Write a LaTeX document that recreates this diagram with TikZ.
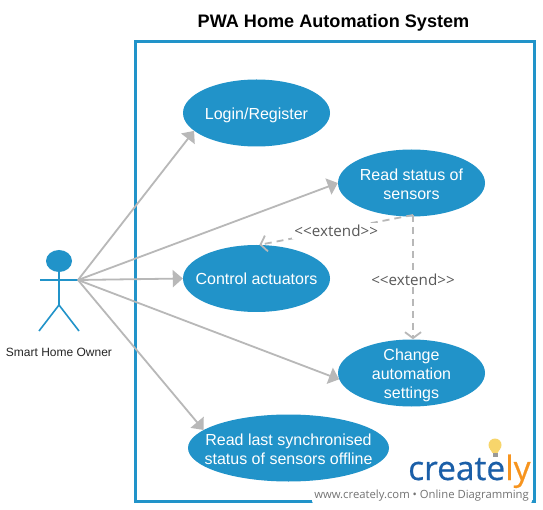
\documentclass[tikz,border=0pt]{standalone}
\usepackage{fontspec}
\setmainfont{Liberation Sans}
\newfontfamily\logofont[FakeBold=0.5]{Open Sans}
\newfontfamily\extfont{Open Sans}
\usetikzlibrary{arrows.meta,shapes.geometric}
\definecolor{blu}{HTML}{2193C9}
\definecolor{gry}{HTML}{B8B8B8}
\definecolor{lbl}{HTML}{595959}
\definecolor{logob}{HTML}{1B5FA8}
\definecolor{logoo}{HTML}{F7941E}
\definecolor{bulb}{HTML}{F7D56B}
\tikzset{
 usecase/.style={ellipse,fill=blu,inner sep=0pt,minimum width=147pt,minimum height=67pt},
 casetext/.style={text=white,font=\fontsize{16}{19}\selectfont,align=center,inner sep=0pt,yshift=-1.5pt},
 assoc/.style={draw=gry,line width=1.8pt,-{Triangle[length=10pt,width=17pt,fill=gry]}},
 ext/.style={draw=gry,line width=1.8pt,dash pattern=on 7pt off 5pt,-{Straight Barb[length=6pt,width=16pt,line width=1.8pt]}},
 extlabel/.style={fill=white,text=lbl,font=\extfont\fontsize{15.2}{17}\selectfont,inner sep=2pt,yshift=-1pt},
 actorline/.style={draw=blu,line width=1.6pt}
}
\begin{document}
\begin{tikzpicture}[x=1pt,y=-1pt]
\useasboundingbox (0,0) rectangle (543,510);
\fill[white] (0,0) rectangle (543,510);
\node[font=\bfseries\fontsize{18.1}{20}\selectfont] (title) at (333.5,22.5) {PWA Home Automation System};
\node[draw=blu,line width=3pt,minimum width=399pt,minimum height=459pt,inner sep=0pt] (system) at (334.5,271.5) {};
% actor
\node[ellipse,fill=blu,minimum width=26pt,minimum height=22pt,inner sep=0pt] (head) at (59,261) {};
\coordinate (hand) at (78,280);
\coordinate (handl) at (40,280);
\coordinate (hip) at (59,305);
\coordinate (footl) at (39,331);
\coordinate (footr) at (79,331);
\draw[actorline] (head.south) -- (hip);
\draw[actorline] (handl) -- (hand);
\draw[actorline] (footl) -- (hip) -- (footr);
\node[font=\fontsize{12}{14}\selectfont,text=black!85] (owner) at (59,352.5) {Smart Home Owner};
% use cases
\node[usecase] (login) at (256.5,113) {};
\node[casetext,yshift=-1pt] (logint) at (login) {Login/Register};
\node[usecase] (status) at (411.5,183) {};
\node[casetext] (statust) at (status) {Read status of\\sensors};
\node[usecase] (control) at (256.5,278.5) {};
\node[casetext,yshift=1pt] (controlt) at (control) {Control actuators};
\node[usecase] (change) at (411.5,373) {};
\node[casetext,yshift=-1pt] (changet) at (change) {Change\\automation\\settings};
\node[usecase,minimum width=201pt] (offline) at (288.5,448) {};
\node[casetext] (offlinet) at (offline) {Read last synchronised\\status of sensors offline};
% associations
\draw[assoc] (hand) -- (login.196);
\draw[assoc] (hand) -- (status.west);
\draw[assoc] (hand) -- (control.west);
\draw[assoc] (hand) -- (change.185);
\draw[assoc] (hand) -- (offline.168);
% extends
\coordinate (extstart) at (413,215);
\draw[ext] (extstart) -- (control.85) node[extlabel,pos=.5] (e1) {<{}<extend>{}>};
\draw[ext] (extstart) -- (change.north -| extstart) node[extlabel,pos=.51] (e2) {<{}<extend>{}>};
% logo
\fill[white,rounded corners=3pt] (312,486) rectangle (532,504);
\fill[bulb] (495,445) circle (6.5pt);
\fill[bulb] (490,449) -- (500,449) -- (497.5,453) -- (492.5,453) -- cycle;
\fill[black!40] (492.5,453) rectangle (497.5,457);
\node[anchor=base west,inner sep=0pt,font=\logofont\fontsize{33.5}{34}\selectfont,text=logob] (logo) at (408,480) {create\textcolor{logoo}{ly}};
\node[anchor=base east,inner sep=0pt,font=\extfont\fontsize{11.3}{14}\selectfont,text=black!55] (tag) at (529,498) {www.creately.com • Online Diagramming};
\end{tikzpicture}
\end{document}
